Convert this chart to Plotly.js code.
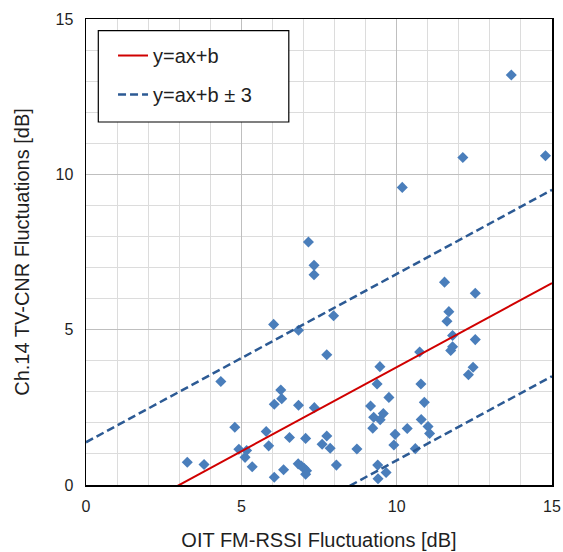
<!DOCTYPE html>
<html>
<head>
<meta charset="utf-8">
<script src="https://cdn.plot.ly/plotly-3.0.1.min.js"></script>
<style>html,body{margin:0;padding:0;background:#fff;}#chart{width:563px;height:552px;}</style>
</head>
<body>
<div id="chart"></div>
<script>
// Measured points: OIT FM-RSSI fluctuations (x) vs Ch.14 TV-CNR fluctuations (y), dB
const rssiFluct = [13.69,12.13,14.79,10.18,7.16,7.34,7.34,11.54,12.53,11.68,7.97,11.62,6.04,6.84,11.80,12.53,11.80,11.74,7.75,10.74,9.46,12.46,12.31,4.34,9.37,10.78,6.27,6.30,9.75,6.06,6.84,7.35,10.89,9.16,9.57,9.26,9.47,10.79,4.79,9.23,11.01,10.34,5.80,11.06,9.95,6.55,7.07,7.75,7.60,5.88,9.91,4.92,5.17,7.86,8.72,10.60,5.12,3.26,3.80,5.35,6.83,6.93,8.06,7.02,7.10,7.07,9.39,6.36,9.66,6.06,9.40];
const cnrFluct  = [13.20,10.54,10.60,9.58,7.82,7.07,6.77,6.53,6.17,5.58,5.45,5.27,5.17,4.98,4.81,4.68,4.45,4.33,4.19,4.28,3.81,3.79,3.55,3.33,3.25,3.25,3.06,2.78,2.82,2.60,2.57,2.49,2.66,2.54,2.30,2.18,2.10,2.11,1.86,1.83,1.88,1.82,1.72,1.66,1.63,1.53,1.50,1.58,1.31,1.26,1.29,1.15,1.11,1.18,1.16,1.17,0.89,0.73,0.66,0.59,0.68,0.61,0.64,0.54,0.46,0.35,0.64,0.49,0.40,0.25,0.20];

// Regression line y = a x + b and band ±3 dB
const fitSlope = 0.5417;
const fitIntercept = -1.625;
const bandWidth = 3;
const lineX = [0, 15];

const tickVals = [0, 5, 10, 15];
const tickText = ['0', '5', '10', '15'];

const fitY = lineX.map(x => fitSlope * x + fitIntercept);
const upperY = fitY.map(v => v + bandWidth);
const lowerY = fitY.map(v => v - bandWidth);

const FONT = 'Liberation Sans, Arial, sans-serif';
const TXT = '#1f1f1f';
const DASH_COLOR = '#2c5a94';

const traces = [
  {
    x: rssiFluct, y: cnrFluct, type: 'scatter', mode: 'markers',
    marker: {symbol: 'diamond', size: 8.5, color: '#4a7ebb'},
    showlegend: false, hoverinfo: 'x+y'
  },
  {
    x: lineX, y: fitY, type: 'scatter', mode: 'lines',
    name: 'y=ax+b', legendgroup: 'fit',
    line: {color: '#d00000', width: 2}
  },
  {
    x: lineX, y: upperY, type: 'scatter', mode: 'lines',
    name: 'y=ax+b \u00b1 3', legendgroup: 'band',
    line: {color: DASH_COLOR, width: 2.5, dash: '8px,4px'}
  },
  {
    x: lineX, y: lowerY, type: 'scatter', mode: 'lines',
    name: 'y=ax+b-3', legendgroup: 'band', showlegend: false,
    line: {color: DASH_COLOR, width: 2.5, dash: '8px,4px'}
  }
];

const axisCommon = {
  range: [0, 15],
  tickmode: 'array', tickvals: tickVals, ticktext: tickText,
  showgrid: true, gridcolor: '#bfbfbf', gridwidth: 1,
  minor: {dtick: 1, showgrid: true, gridcolor: '#dcdcdc', gridwidth: 1, ticks: ''},
  showline: true, linecolor: '#000', linewidth: 1.5, mirror: true,
  zeroline: false, ticks: '',
  tickfont: {family: FONT, size: 16, color: TXT},
  fixedrange: true
};

const layout = {
  width: 563, height: 552,
  margin: {l: 86, r: 11, t: 19, b: 67},
  paper_bgcolor: '#fff', plot_bgcolor: '#fff',
  font: {family: FONT, color: TXT},
  xaxis: Object.assign({}, axisCommon, {
    ticklabelstandoff: 6,
    title: {text: 'OIT FM-RSSI Fluctuations [dB]', font: {family: FONT, size: 20, color: TXT}, standoff: 19}
  }),
  yaxis: Object.assign({}, axisCommon, {
    ticklabelstandoff: 8,
    title: {text: 'Ch.14 TV-CNR Fluctuations [dB]', font: {family: FONT, size: 20, color: TXT}, standoff: 20}
  }),
  // legend frame (white box with black border) drawn beneath the legend entries
  shapes: [{
    type: 'rect', xref: 'paper', yref: 'paper', layer: 'above',
    x0: 0.0264, x1: 0.4352, y0: 0.779, y1: 0.9749,
    line: {color: '#000', width: 1.2}, fillcolor: '#fff'
  }],
  legend: {
    x: 0.058, y: 0.9635, xanchor: 'left', yanchor: 'top',
    bgcolor: 'rgba(0,0,0,0)', borderwidth: 0,
    font: {family: FONT, size: 20, color: TXT},
    traceorder: 'grouped', tracegroupgap: 10,
    itemwidth: 30
  },
  showlegend: true
};

Plotly.newPlot('chart', traces, layout, {displayModeBar: false, staticPlot: true});
</script>
</body>
</html>
